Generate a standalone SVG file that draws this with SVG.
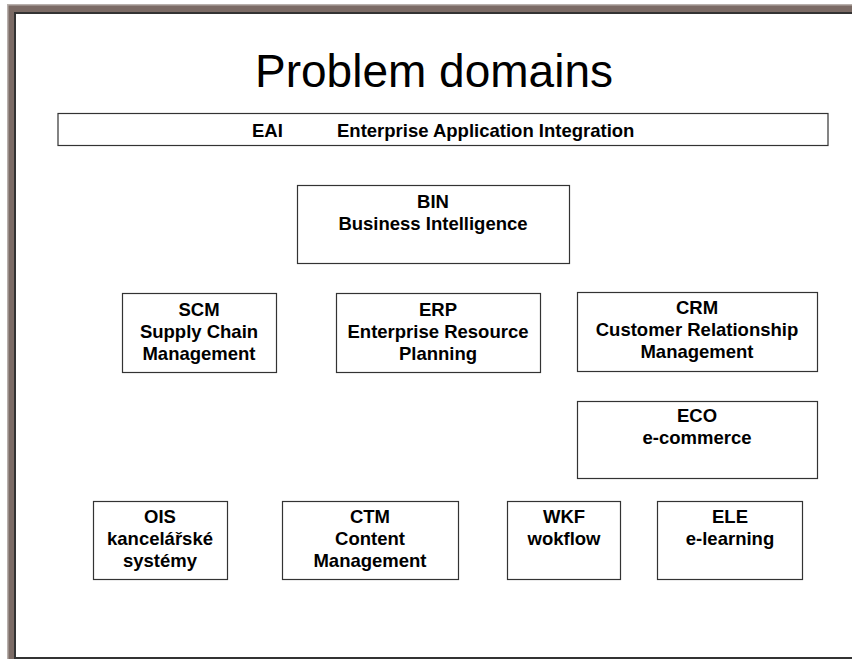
<svg xmlns="http://www.w3.org/2000/svg" width="852" height="659" viewBox="0 0 852 659">
<style>
.box{fill:#fff;stroke:#333;stroke-width:1.2}
.t{font-family:"Liberation Sans",Arial,sans-serif;font-weight:bold;font-size:18.5px;fill:#000;text-anchor:middle}
.title{font-family:"Liberation Sans",Arial,sans-serif;font-size:46px;fill:#000;text-anchor:middle}
</style>
<rect x="0" y="0" width="852" height="659" fill="#fff"/>
<g id="frame">
<rect x="7" y="4" width="845" height="9" fill="#7b6b65"/>
<rect x="7" y="4" width="8" height="655" fill="#7b6b65"/>
<rect x="7" y="4" width="845" height="1.5" fill="#b8b0ac"/>
<rect x="7" y="4" width="1.5" height="655" fill="#b8b0ac"/>
<rect x="14" y="12" width="838" height="2" fill="#333"/>
<rect x="14" y="12" width="2" height="647" fill="#333"/>
<rect x="14" y="657" width="838" height="2" fill="#333"/>
</g>
<text class="title" x="434" y="87">Problem domains</text>
<g id="connectors"/>
<g id="EAI">
<rect class="box" x="58" y="113.5" width="770" height="32"/>
<text class="t" x="252" y="137" style="text-anchor:start">EAI</text>
<text class="t" x="337" y="137" style="text-anchor:start">Enterprise Application Integration</text>
</g>
<g id="BIN">
<rect class="box" x="297.5" y="185.5" width="272" height="78"/>
<text class="t" x="433" y="208">BIN</text>
<text class="t" x="433" y="230">Business Intelligence</text>
</g>
<g id="SCM">
<rect class="box" x="122.5" y="293.5" width="154" height="79"/>
<text class="t" x="199" y="316">SCM</text>
<text class="t" x="199" y="338">Supply Chain</text>
<text class="t" x="199" y="360">Management</text>
</g>
<g id="ERP">
<rect class="box" x="336.5" y="293.5" width="204" height="79"/>
<text class="t" x="438" y="316">ERP</text>
<text class="t" x="438" y="338">Enterprise Resource</text>
<text class="t" x="438" y="360">Planning</text>
</g>
<g id="CRM">
<rect class="box" x="577.5" y="292.5" width="240" height="79"/>
<text class="t" x="697" y="314">CRM</text>
<text class="t" x="697" y="336">Customer Relationship</text>
<text class="t" x="697" y="358">Management</text>
</g>
<g id="ECO">
<rect class="box" x="577.5" y="401.5" width="240" height="77"/>
<text class="t" x="697" y="422">ECO</text>
<text class="t" x="697" y="444">e-commerce</text>
</g>
<g id="OIS">
<rect class="box" x="93.5" y="501.5" width="134" height="78"/>
<text class="t" x="160" y="523">OIS</text>
<text class="t" x="160" y="545">kancelářské</text>
<text class="t" x="160" y="567">systémy</text>
</g>
<g id="CTM">
<rect class="box" x="282.5" y="501.5" width="176" height="78"/>
<text class="t" x="370" y="523">CTM</text>
<text class="t" x="370" y="545">Content</text>
<text class="t" x="370" y="567">Management</text>
</g>
<g id="WKF">
<rect class="box" x="507.5" y="501.5" width="113" height="78"/>
<text class="t" x="564" y="523">WKF</text>
<text class="t" x="564" y="545">wokflow</text>
</g>
<g id="ELE">
<rect class="box" x="657.5" y="501.5" width="145" height="78"/>
<text class="t" x="730" y="523">ELE</text>
<text class="t" x="730" y="545">e-learning</text>
</g>
</svg>
